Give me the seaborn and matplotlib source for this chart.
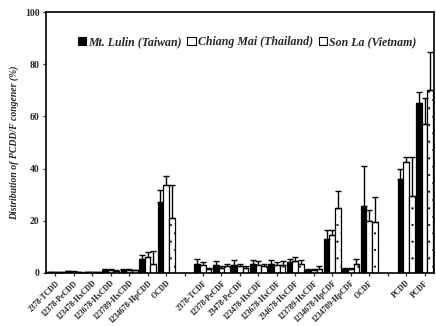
import numpy as np
import pandas as pd
import seaborn as sns
import matplotlib.pyplot as plt
from matplotlib.patches import Patch

# Congener labels (two blank slots separate the dioxin, furan and total groups)
congeners = ["2378-TCDD", "12378-PeCDD", "123478-HxCDD", "123678-HxCDD",
             "123789-HxCDD", "1234678-HpCDD", "OCDD",
             "2378-TCDF", "12378-PeCDF", "23478-PeCDF", "123478-HxCDF",
             "123678-HxCDF", "234678-HxCDF", "123789-HxCDF", "1234678-HpCDF",
             "1234789-HpCDF", "OCDF",
             "PCDD", "PCDF"]
sites = ["Mt. Lulin (Taiwan)", "Chiang Mai (Thailand)", "Son La (Vietnam)"]

# Mean congener share (%) and upper standard deviation per site
taiwan = [0.3, 0.6, 0.4, 1.0, 1.1, 5.5, 27.3,
          3.5, 3.0, 3.0, 3.5, 3.5, 4.0, 1.0, 12.8, 1.5, 25.5,
          36.0, 65.0]
taiwan_err = [0.1, 0.1, 0.1, 0.3, 0.3, 1.5, 4.5,
              2.0, 1.5, 2.0, 1.5, 1.5, 1.5, 0.5, 3.5, 0.5, 15.5,
              4.0, 4.5]
thailand = [0.3, 0.5, 0.4, 1.1, 1.2, 6.0, 33.5,
            3.0, 2.0, 2.5, 3.0, 3.0, 4.5, 1.0, 14.5, 1.5, 20.0,
            42.5, 57.0]
thailand_err = [0.1, 0.1, 0.1, 0.3, 0.3, 2.0, 3.5,
                1.0, 0.5, 1.0, 1.5, 1.0, 1.5, 0.3, 2.0, 0.5, 4.0,
                2.0, 10.0]
vietnam = [0.2, 0.4, 0.3, 0.9, 1.0, 3.5, 21.0,
           1.5, 2.5, 2.0, 2.5, 3.0, 3.5, 1.5, 25.0, 3.5, 19.5,
           29.5, 70.0]
vietnam_err = [0.1, 0.1, 0.1, 0.2, 0.2, 5.0, 12.5,
               0.5, 1.0, 0.5, 1.0, 1.5, 1.5, 1.0, 6.5, 2.0, 9.5,
               15.0, 14.5]

values = [taiwan, thailand, vietnam]
errors = [taiwan_err, thailand_err, vietnam_err]

rows = []
for site, vals, errs in zip(sites, values, errors):
    for c, v, e in zip(congeners, vals, errs):
        rows.append({"congener": c, "site": site, "value": v, "err": e})
df = pd.DataFrame(rows)

order = congeners[:7] + [" "] + congeners[7:17] + ["  "] + congeners[17:]

sns.set_theme(style="ticks")
plt.rcParams['font.family'] = ['Liberation Serif', 'DejaVu Serif']
plt.rcParams['hatch.linewidth'] = 0.3
plt.rcParams['hatch.color'] = '#555555'

fig, ax = plt.subplots(figsize=(4.36, 3.26), dpi=100)
fig.subplots_adjust(left=0.1055, right=0.995, top=0.963, bottom=0.163)

colors = {sites[0]: "black", sites[1]: "white", sites[2]: "white"}
sns.barplot(data=df, x="congener", y="value", hue="site", order=order,
            hue_order=sites, palette=colors, edgecolor="black",
            linewidth=0.9, width=0.92, errorbar=None, legend=False, ax=ax)

# Sparse dotted fill for the Son La bars, then upper error bars for every bar
err_lookup = {(r.site, r.congener): r.err for r in df.itertuples()}
for site, cont in zip(sites, ax.containers):
    for p in cont.patches:
        if site == sites[2]:
            p.set_hatch("..")
        xc = p.get_x() + p.get_width() / 2
        h = p.get_height()
        if not np.isfinite(h) or h == 0:
            continue
        cat = order[int(round(xc))]
        e = err_lookup[(site, cat)]
        ax.errorbar(xc, h, yerr=[[0], [e]], fmt="none", ecolor="black",
                    elinewidth=1.0, capsize=2.2, capthick=1.0)

ax.set_xlim(-0.5, len(order) - 0.5)
ax.set_ylim(0, 100)
ax.set_yticks(np.arange(0, 101, 20))
ax.set_yticklabels([str(v) for v in range(0, 101, 20)],
                   fontsize=7, fontweight="bold")
ax.set_xticks(range(len(order)))
ax.set_xticklabels([o.strip() for o in order], rotation=45, ha="right",
                   rotation_mode="anchor", fontsize=5.6, fontweight="bold")
ax.tick_params(axis="both", direction="out", length=2.5, width=0.9, pad=2)
ax.set_xlabel("")
ax.set_ylabel("Distribution of PCDD/F congener (%)", fontsize=7,
              fontweight="bold", fontstyle="italic", labelpad=4)

for s in ax.spines.values():
    s.set_visible(True)
    s.set_linewidth(1.2)
    s.set_color("black")

handles = [Patch(facecolor=colors[s], edgecolor="black", linewidth=0.8)
           for s in sites]
ax.legend(handles, sites, loc="center", bbox_to_anchor=(0.518, 0.885),
          ncol=3, frameon=False, handlelength=0.7, handleheight=0.7,
          handletextpad=0.15, columnspacing=0.5,
          prop={"size": 8.6, "weight": "bold", "style": "italic"})

fig.savefig("out.png", dpi=100)
